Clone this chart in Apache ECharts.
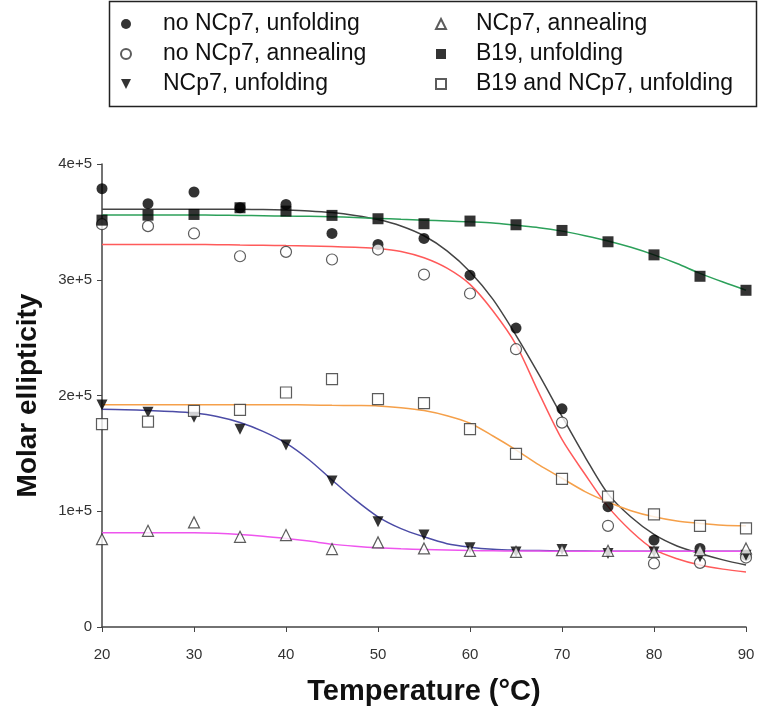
<!DOCTYPE html>
<html>
<head>
<meta charset="utf-8">
<script src="https://cdn.jsdelivr.net/npm/echarts@6/dist/echarts.min.js"></script>
<style>
html,body{margin:0;padding:0;background:#fff;}
#c{width:764px;height:714px;}
</style>
</head>
<body>
<div id="c"></div>
<script>
// Temperatures of measured points (°C)
const temps = [20,25,30,35,40,45,50,55,60,65,70,75,80,85,90];
// Measured molar ellipticity (units of 1e5)
const noNcp7Unfold   = [3.787,3.657,3.758,3.622,3.651,3.40,3.305,3.357,3.039,2.583,1.885,1.039,0.751,0.679,0.62];
const noNcp7Anneal   = [3.48,3.463,3.40,3.203,3.241,3.175,3.261,3.045,2.881,2.40,1.766,0.874,0.549,0.554,0.60];
const ncp7Unfold     = [1.919,1.856,1.813,1.709,1.573,1.262,0.909,0.794,0.684,0.649,0.67,0.635,0.649,0.606,0.62];
const ncp7Anneal     = [0.759,0.831,0.904,0.779,0.794,0.673,0.731,0.679,0.658,0.649,0.664,0.658,0.649,0.664,0.679];
const b19Unfold      = [3.515,3.558,3.564,3.622,3.593,3.556,3.527,3.484,3.507,3.475,3.426,3.328,3.215,3.03,2.909];
const b19Ncp7Unfold  = [1.752,1.775,1.868,1.876,2.026,2.142,1.969,1.934,1.709,1.495,1.279,1.126,0.973,0.874,0.852];

// Fitted curves (units of 1e5)
const fitX = [20,22.5,25,27.5,30,32.5,35,37.5,40,42.5,45,47.5,50,52.5,55,57.5,60,62.5,65,67.5,70,72.5,75,77.5,80,82.5,85,87.5,90];
const fitNoNcp7Unfold  = [3.61,3.61,3.61,3.61,3.61,3.61,3.61,3.607,3.603,3.595,3.58,3.555,3.52,3.465,3.38,3.25,3.07,2.83,2.52,2.18,1.82,1.47,1.15,0.95,0.80,0.70,0.635,0.58,0.535];
const fitNoNcp7Anneal  = [3.305,3.305,3.305,3.305,3.305,3.303,3.30,3.298,3.295,3.292,3.287,3.28,3.27,3.245,3.19,3.10,2.96,2.73,2.44,2.02,1.62,1.32,1.04,0.83,0.67,0.59,0.535,0.50,0.475];
const fitNcp7Unfold    = [1.882,1.877,1.87,1.862,1.848,1.818,1.766,1.69,1.588,1.445,1.27,1.10,0.952,0.85,0.779,0.72,0.69,0.672,0.664,0.66,0.657,0.656,0.655,0.655,0.655,0.655,0.655,0.655,0.655];
const fitNcp7Anneal    = [0.814,0.814,0.814,0.814,0.814,0.81,0.80,0.785,0.765,0.742,0.716,0.698,0.684,0.675,0.67,0.665,0.66,0.658,0.657,0.656,0.655,0.655,0.655,0.655,0.655,0.655,0.655,0.655,0.655];
const fitB19Unfold     = [3.56,3.56,3.56,3.56,3.56,3.558,3.555,3.553,3.55,3.548,3.545,3.538,3.53,3.522,3.515,3.508,3.50,3.49,3.47,3.45,3.42,3.38,3.335,3.28,3.215,3.14,3.055,2.98,2.91];
const fitB19Ncp7Unfold = [1.92,1.92,1.92,1.92,1.92,1.92,1.92,1.92,1.92,1.918,1.915,1.913,1.91,1.895,1.87,1.825,1.76,1.65,1.53,1.40,1.285,1.17,1.08,1.005,0.952,0.915,0.895,0.88,0.874];

const names = ['no NCp7, unfolding','no NCp7, annealing','NCp7, unfolding','NCp7, annealing','B19, unfolding','B19 and NCp7, unfolding'];
const yTickLabels = {0:'0',100000:'1e+5',200000:'2e+5',300000:'3e+5',400000:'4e+5'};

const SCALE = 1e5;
const pts = (xs, ys) => xs.map((x,i)=>[x, ys[i]*SCALE]);

const filled = {color:'#000'};
const open = {color:'#fff', borderColor:'#333', borderWidth:1.2};

function scatter(name, data, symbol, style){
  return {type:'scatter', name, data:pts(temps,data), symbol, symbolSize:11, itemStyle:style, z:5};
}
function fit(data, color){
  return {type:'line', data:pts(fitX,data), smooth:0.3, showSymbol:false, symbol:'none',
          lineStyle:{color, width:1.5}, itemStyle:{color}, z:2, silent:true};
}

const font = 'Liberation Sans, Arial, sans-serif';
function legendCol(left, textPad, data){
  return {orient:'vertical', left, top:12, padding:0, itemWidth:10, itemHeight:10, itemGap:6,
    data, selectedMode:false,
    textStyle:{fontSize:23, color:'#111', fontFamily:font, lineHeight:24, padding:[0,0,0,textPad]}};
}

const chart = echarts.init(document.getElementById('c'));
chart.setOption({
  animation:false,
  backgroundColor:'#fff',
  graphic:[{type:'rect', shape:{x:109.5, y:1.5, width:647, height:105}, style:{fill:'none', stroke:'#222', lineWidth:1.5}}],
  legend:[
    legendCol(120, 27, [names[0],names[1],names[2]]),
    legendCol(435, 25, [names[3],names[4],names[5]])
  ],
  grid:{left:102, right:18, top:164, bottom:87},
  xAxis:{type:'value', min:20, max:90, interval:10,
    name:'Temperature (°C)', nameLocation:'middle', nameGap:50,
    nameTextStyle:{fontSize:29, fontWeight:'bold', color:'#111', fontFamily:font},
    axisLine:{lineStyle:{color:'#444', width:1.5}},
    axisTick:{length:5, lineStyle:{color:'#444'}},
    axisLabel:{fontSize:15, color:'#333', margin:20, fontFamily:font},
    splitLine:{show:false}},
  yAxis:{type:'value', min:0, max:400000, interval:100000,
    name:'Molar ellipticity', nameLocation:'middle', nameGap:60,
    nameTextStyle:{fontSize:28, fontWeight:'bold', color:'#111', fontFamily:font},
    axisLine:{show:true, lineStyle:{color:'#444', width:1.5}},
    axisTick:{show:true, length:5, lineStyle:{color:'#444'}},
    axisLabel:{fontSize:15, color:'#333', margin:10, fontFamily:font, formatter:v=>yTickLabels[v]},
    splitLine:{show:false}},
  series:[
    fit(fitNoNcp7Unfold,'#444444'),
    fit(fitNoNcp7Anneal,'#ff5a5a'),
    fit(fitNcp7Unfold,'#4c4ca6'),
    fit(fitNcp7Anneal,'#ee55ee'),
    fit(fitB19Unfold,'#2ca05a'),
    fit(fitB19Ncp7Unfold,'#f5a04a'),
    scatter(names[0], noNcp7Unfold, 'circle', filled),
    scatter(names[1], noNcp7Anneal, 'circle', open),
    scatter(names[2], ncp7Unfold, 'path://M0,0 L10,0 L5,10 Z', filled),
    scatter(names[3], ncp7Anneal, 'triangle', open),
    scatter(names[4], b19Unfold, 'rect', filled),
    scatter(names[5], b19Ncp7Unfold, 'rect', open)
  ]
});
</script>
</body>
</html>
